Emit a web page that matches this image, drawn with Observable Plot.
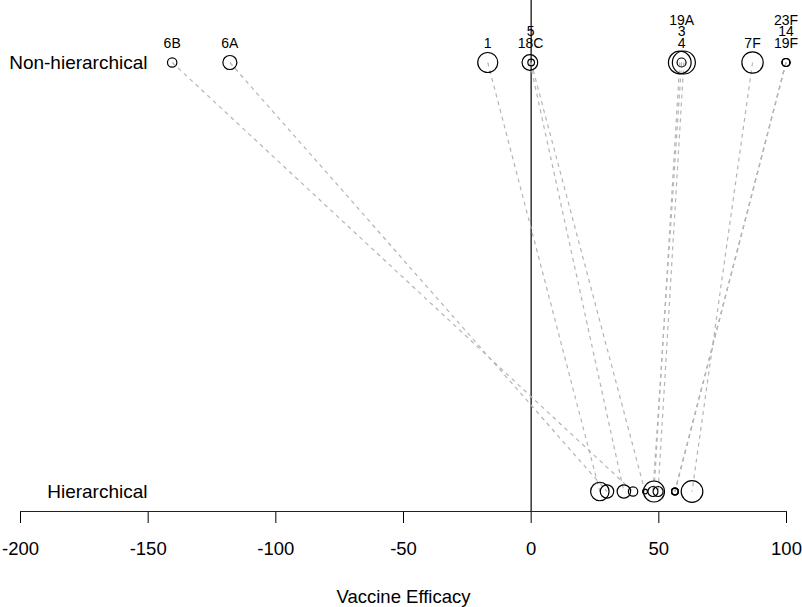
<!DOCTYPE html>
<html><head><meta charset="utf-8">
<script src="https://cdn.jsdelivr.net/npm/d3@7"></script>
<script src="https://cdn.jsdelivr.net/npm/@observablehq/plot@0.6"></script>
<style>
html,body{margin:0;padding:0;background:#fff;}
#chart svg{display:block;}
</style></head><body><div id="chart"></div>
<script>
// Data
const serotypes = ["6B", "6A", "1", "5", "18C", "19A", "3", "4", "7F", "23F", "14", "19F"];
const nonHierarchicalVE = [-140.6, -118.0, -17.0, 0.0, -0.5, 58.2, 59.8, 58.9, 86.7, 99.8, 99.8, 99.8];
const hierarchicalVE = [39.9, 29.7, 26.9, 44.6, 36.3, 48.1, 49.7, 47.7, 63.0, 56.3, 56.3, 56.3];
const nonHierarchicalWeight = [22, 49, 100, 11, 61, 128, 132, 20, 114, 16, 16, 16];
const hierarchicalWeight = [22, 45, 85, 6, 45, 110, 25, 25, 117, 11, 11, 11];
const modelLabels = ["Non-hierarchical", "Hierarchical"];
const xTicks = [-200, -150, -100, -50, 0, 50, 100];
const xLabel = "Vaccine Efficacy";

const points = [];
serotypes.forEach((s, i) => {
  points.push({serotype: s, model: modelLabels[0], ve: nonHierarchicalVE[i], w: nonHierarchicalWeight[i]});
  points.push({serotype: s, model: modelLabels[1], ve: hierarchicalVE[i], w: hierarchicalWeight[i]});
});
const links = serotypes.map((s, i) => ({serotype: s, x1: nonHierarchicalVE[i], x2: hierarchicalVE[i]}));

// stack labels of overlapping points
const groups = [];
serotypes.forEach((s, i) => {
  const x = nonHierarchicalVE[i];
  let g = groups.find(g => Math.abs(g.x0 - x) < 3);
  if (!g) { g = {x0: x, xs: [], names: []}; groups.push(g); }
  g.xs.push(x); g.names.push(s);
});
const labelData = groups.map(g => ({x: d3.mean(g.xs), text: g.names.join("\n")}));

const font = "'Liberation Sans', Arial, Helvetica, sans-serif";
const chart = Plot.plot({
  width: 802, height: 607,
  marginLeft: 20, marginRight: 16, marginTop: 0, marginBottom: 96,
  style: {fontFamily: font, background: "#fff", color: "black"},
  x: {domain: [-200, 100]},
  y: {type: "point", domain: modelLabels, range: [62, 491], padding: 0},
  r: {type: "sqrt", domain: [0, 132], range: [0, 11.5]},
  marks: [
    Plot.ruleX([0], {stroke: "#333", strokeWidth: 1.5}),
    Plot.link(links, {x1: "x1", x2: "x2", y1: () => modelLabels[0], y2: () => modelLabels[1],
      stroke: "#b5b5b5", strokeDasharray: "4,4", strokeWidth: 1.2}),
    Plot.dot(points, {x: "ve", y: "model", r: "w", stroke: "black", fill: "none", strokeWidth: 1.2}),
    Plot.text(labelData, {x: "x", y: () => modelLabels[0], text: "text", lineAnchor: "bottom",
      lineHeight: 0.82, dy: -15, fontSize: 14, fill: "black"}),
    Plot.axisY({tickSize: 0, tickPadding: 3, dx: 130, fontSize: 19, textAnchor: "end", label: null}),
    Plot.axisX({ticks: xTicks, tickSize: 12, tickPadding: 18, fontSize: 18.5,
      tickFormat: d => String(d), label: null}),
    Plot.frame({anchor: "bottom", stroke: "#222"}),
    Plot.text([xLabel], {frameAnchor: "bottom", dy: 91, fontSize: 18.5, fill: "black"})
  ]
});
document.getElementById("chart").appendChild(chart);
</script>
</body></html>
